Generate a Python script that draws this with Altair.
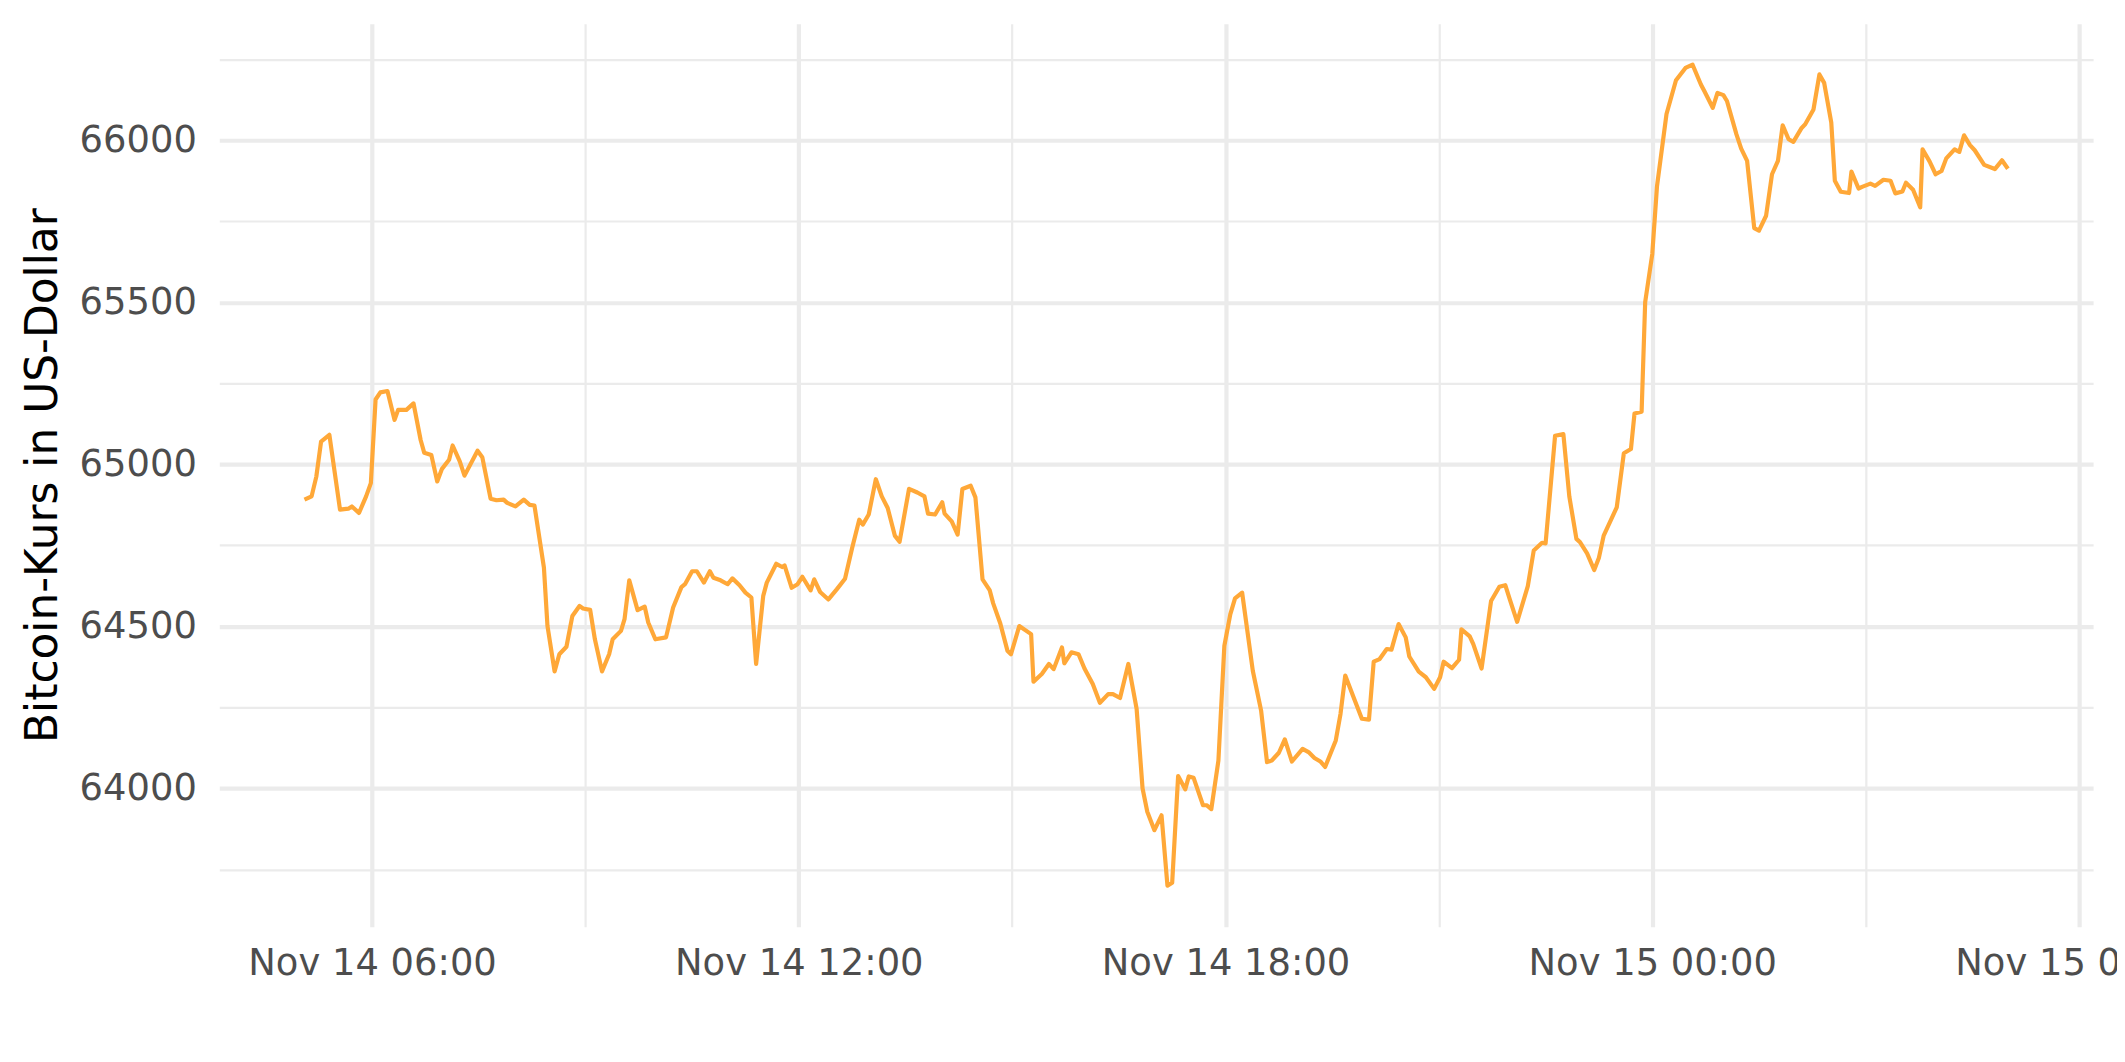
import altair as alt
import pandas as pd
from datetime import datetime, timedelta

# Minuten seit 2021-11-14 00:00
minuten = [
    303, 309, 313, 317, 324, 333, 340, 343, 349, 355, 359, 363, 367, 373, 379, 382, 389, 395,
    401, 404, 410, 415, 419, 425, 428, 434, 438, 449, 453, 460, 465, 471, 474, 481, 488, 493,
    497, 505, 508, 514, 518, 524, 529, 535, 538, 544, 548, 554, 560, 563, 570, 573, 577, 584,
    590, 593, 599, 608, 614, 621, 624, 630, 634, 640, 645, 648, 654, 660,
    664, 670, 675, 680, 684, 690, 693, 701, 706, 708, 714, 719, 723, 730, 733, 738, 745, 752,
    759, 765, 771, 774, 779, 785, 790, 795, 801, 805, 813, 820, 826, 829, 835, 841, 843, 849,
    854, 858, 865, 869, 875, 881, 884, 890, 896, 899, 906, 916, 918, 925, 931, 935, 942, 944,
    950, 956, 961, 968, 974, 981, 985, 991, 998, 1005,
    1010, 1014, 1020, 1026, 1031, 1035, 1040, 1046, 1049, 1053, 1061, 1064, 1068, 1074, 1079,
    1084, 1088, 1094, 1103, 1110, 1115, 1119, 1125, 1130, 1136, 1145, 1150, 1155, 1160, 1164,
    1173, 1177, 1181, 1188, 1195, 1201, 1205, 1210, 1216, 1220, 1226, 1232, 1235, 1243, 1249,
    1256, 1261, 1264, 1271, 1277, 1279, 1286, 1289, 1296, 1304, 1311, 1316, 1320, 1326, 1335,
    1340, 1347, 1350, 1358, 1365, 1370, 1376, 1379, 1385, 1391, 1395, 1399, 1410, 1416, 1422,
    1425, 1431,
    1434, 1440, 1444, 1452, 1460, 1468, 1474, 1481, 1484, 1491, 1495, 1500, 1503, 1511, 1515,
    1520, 1526, 1530, 1536, 1541, 1546, 1550, 1555, 1559, 1566, 1569, 1576, 1581, 1585, 1591,
    1594, 1599, 1606, 1608, 1614, 1617, 1624, 1628, 1635, 1641, 1645, 1651, 1654, 1660, 1666,
    1668, 1674, 1679, 1684, 1688, 1695, 1699, 1703, 1708, 1712, 1720, 1729, 1735, 1740,
]

kurs = [
    64891, 64901, 64962, 65070, 65091, 64860, 64863, 64870, 64850, 64901, 64942, 65200, 65222,
    65226, 65137, 65168, 65168, 65188, 65075, 65036, 65029, 64947, 64986, 65014, 65058, 65009,
    64965, 65042, 65022, 64894, 64889, 64891, 64881, 64870, 64891, 64875, 64873, 64681, 64501,
    64361, 64414, 64437, 64532, 64563, 64555, 64551, 64460, 64361, 64414, 64460, 64486, 64522,
    64642, 64550, 64561, 64512, 64460, 64466, 64558, 64621, 64630, 64670, 64670, 64635, 64670,
    64650, 64642, 64630,
    64648, 64627, 64604, 64589, 64384, 64594, 64635, 64693, 64683, 64688, 64619, 64630, 64653,
    64611, 64645, 64606, 64583, 64614, 64647, 64742, 64829, 64814, 64845, 64954, 64901, 64865,
    64780, 64761, 64924, 64913, 64901, 64848, 64845, 64883, 64848, 64824, 64783, 64924, 64934,
    64898, 64645, 64612, 64571, 64509, 64425, 64414, 64501, 64476, 64329, 64353, 64384, 64368,
    64435, 64386, 64420, 64414, 64370, 64322, 64264, 64291, 64291, 64279, 64384, 64245,
    64000, 63928, 63871, 63917, 63700, 63709, 64038, 63997, 64037, 64033, 63948, 63948, 63936,
    64086, 64440, 64537, 64586, 64604, 64363, 64240, 64081, 64086, 64110, 64151, 64083, 64122,
    64112, 64094, 64083, 64066, 64148, 64230, 64348, 64281, 64215, 64212, 64391, 64399, 64430,
    64428, 64507, 64466, 64407, 64360, 64343, 64307, 64343, 64391, 64371, 64397, 64491, 64469,
    64445, 64370, 64578, 64622, 64627, 64581, 64514, 64624,
    64734, 64758, 64756, 65088, 65093, 64901, 64770, 64760, 64725, 64674, 64712, 64780, 64867,
    65034, 65047, 65157, 65162,
    65500, 65649, 65859, 66081, 66185, 66223, 66233, 66172, 66151, 66100, 66146, 66139, 66121,
    66018, 65974, 65936, 65729, 65721, 65767, 65895, 65936, 66046, 66003, 65995, 66038, 66049,
    66095, 66203, 66177, 66054, 65875, 65841, 65837, 65903, 65851, 65856, 65866, 65859, 65878,
    65875, 65836, 65842, 65869, 65847, 65793, 65972, 65934, 65895, 65905, 65944, 65972, 65964,
    66015, 65985, 65969, 65924, 65911, 65938, 65912,
]

# Achsenwerte
x_haupt = [360, 720, 1080, 1440, 1800]      # 06:00, 12:00, 18:00, 00:00, 06:00
x_neben = [540, 900, 1260, 1620]            # 09:00, 15:00, 21:00, 03:00
y_haupt = [64000, 64500, 65000, 65500, 66000]
y_neben = [63750, 64250, 64750, 65250, 65750, 66250]

basis = datetime(2021, 11, 14)


def zeitpunkt(m):
    d = basis + timedelta(minutes=m)
    return alt.DateTime(year=d.year, month=d.month, date=d.day, hours=d.hour,
                        minutes=d.minute, seconds=d.second,
                        milliseconds=int(d.microsecond / 1000))


zeit = [(basis + timedelta(minutes=m)).strftime("%Y-%m-%dT%H:%M:%S") for m in minuten]
df = pd.DataFrame({"Zeit": zeit, "Kurs": kurs})

# ggplot-like 5% expansion
xr = max(minuten) - min(minuten)
yr = max(kurs) - min(kurs)
x_dom = [zeitpunkt(min(minuten) - 0.05 * xr), zeitpunkt(max(minuten) + 0.05 * xr)]
y_dom = [min(kurs) - 0.05 * yr, max(kurs) + 0.05 * yr]

xscale = alt.Scale(domain=x_dom, nice=False)
yscale = alt.Scale(domain=y_dom, nice=False, zero=False)

GRID = "#EBEBEB"
FONT = "DejaVu Sans"

neben = alt.Chart(df).mark_line(strokeOpacity=0).encode(
    x=alt.X("Zeit:T", scale=xscale,
            axis=alt.Axis(values=[zeitpunkt(m) for m in x_neben], labels=False, ticks=False,
                          domain=False, title=None, grid=True, gridColor=GRID,
                          gridWidth=2.2, orient="bottom")),
    y=alt.Y("Kurs:Q", scale=yscale,
            axis=alt.Axis(values=y_neben, labels=False, ticks=False, domain=False,
                          title=None, grid=True, gridColor=GRID, gridWidth=2.2,
                          orient="left")),
)

haupt = alt.Chart(df).mark_line(color="#FFA838", strokeWidth=4.2, strokeJoin="round").encode(
    x=alt.X("Zeit:T", scale=xscale,
            axis=alt.Axis(values=[zeitpunkt(m) for m in x_haupt], format="%b %d %H:%M",
                          labelFont=FONT, labelFontSize=37, labelColor="#4D4D4D",
                          labelPadding=19, labelLimit=1000, ticks=False, tickSize=0,
                          domain=False, grid=True, gridColor=GRID, gridWidth=4.2, title=None,
                          labelFlush=False, labelOverlap=False, orient="bottom")),
    y=alt.Y("Kurs:Q", scale=yscale,
            axis=alt.Axis(values=y_haupt, format="d", labelFont=FONT, labelFontSize=37,
                          labelColor="#4D4D4D", labelPadding=23, labelLimit=1000,
                          ticks=False, tickSize=0,
                          domain=False, grid=True, gridColor=GRID, gridWidth=4.2,
                          labelFlush=False, labelOverlap=False, orient="left",
                          title="Bitcoin-Kurs in US-Dollar", titleFont=FONT,
                          titleFontSize=44, titleColor="#000000", titleFontWeight="normal",
                          titleAngle=270, titleAlign="center", titleBaseline="alphabetic",
                          titleLimit=2000, titleX=-163, titleY=453)),
)

chart = alt.layer(neben, haupt).resolve_axis(
    x="independent", y="independent"
).properties(
    width=1880,
    height=906,
    padding={"left": 212, "top": 14, "right": 24, "bottom": 110},
    autosize=alt.AutoSizeParams(type="none"),
    background="#FFFFFF",
).configure_view(strokeOpacity=0)

chart.save("out.html", embed_options={"renderer": "svg", "actions": False})
